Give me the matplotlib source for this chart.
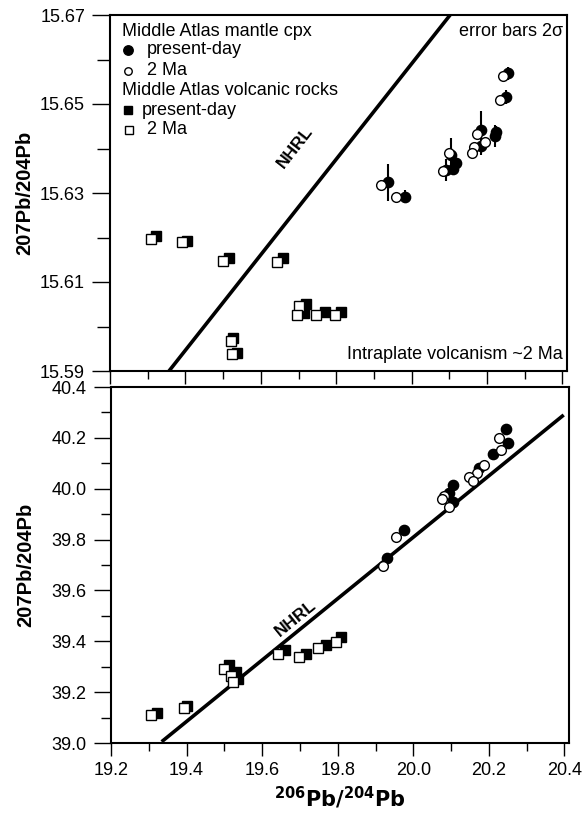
import matplotlib
matplotlib.use('Agg')
import matplotlib.pyplot as plt
from matplotlib.ticker import MultipleLocator, FormatStrFormatter

plt.rcParams['font.family'] = ['Liberation Sans', 'DejaVu Sans']

# --- 207Pb/204Pb vs 206Pb/204Pb (upper panel) ---
# clinopyroxene, present-day ratios (with 2 sigma error)
cpx_hoje_x_207 = [19.938, 19.982, 20.104, 20.090, 20.118, 20.110, 20.185, 20.183, 20.225, 20.222, 20.256, 20.251]
cpx_hoje_y_207 = [15.6324, 15.6292, 15.6385, 15.6352, 15.6367, 15.6354, 15.6442, 15.6406, 15.6438, 15.6428, 15.6569, 15.6516]
cpx_hoje_err_207 = [0.0042, 0.0015, 0.0038, 0.0025, 0.0012, 0.0012, 0.0043, 0.0020, 0.0012, 0.0025, 0.0015, 0.0015]
# clinopyroxene, back-calculated to 2 Ma
cpx_2ma_x_207 = [19.920, 19.959, 20.100, 20.084, 20.173, 20.194, 20.166, 20.159, 20.242, 20.235]
cpx_2ma_y_207 = [15.6318, 15.6292, 15.6390, 15.6350, 15.6433, 15.6415, 15.6403, 15.6391, 15.6564, 15.6509]
# volcanic rocks
rocha_hoje_x_207 = [19.321, 19.405, 19.516, 19.660, 19.721, 19.715, 19.770, 19.813, 19.527, 19.536]
rocha_hoje_y_207 = [15.6203, 15.6193, 15.6155, 15.6155, 15.6051, 15.6031, 15.6032, 15.6032, 15.5975, 15.5941]
rocha_2ma_x_207 = [19.308, 19.392, 19.501, 19.642, 19.700, 19.695, 19.747, 19.796, 19.520, 19.524]
rocha_2ma_y_207 = [15.6197, 15.6189, 15.6147, 15.6144, 15.6045, 15.6026, 15.6026, 15.6026, 15.5968, 15.5938]
# Northern Hemisphere Reference Line, end points
nhrl_x_207 = [19.3565, 20.102]
nhrl_y_207 = [15.590, 15.670]

# --- lower panel ---
cpx_hoje_x_208 = [20.245, 20.250, 20.211, 20.174, 20.106, 20.095, 20.104, 19.975, 19.931]
cpx_hoje_y_208 = [40.2336, 40.181, 40.1365, 40.083, 40.0146, 39.982, 39.949, 39.838, 39.726]
cpx_2ma_x_208 = [20.227, 20.232, 20.187, 20.168, 20.148, 20.157, 20.081, 20.077, 20.095, 19.953, 19.921]
cpx_2ma_y_208 = [40.2007, 40.152, 40.093, 40.061, 40.045, 40.032, 39.971, 39.958, 39.927, 39.809, 39.696]
rocha_hoje_x_208 = [19.321, 19.402, 19.513, 19.532, 19.536, 19.660, 19.715, 19.770, 19.809]
rocha_hoje_y_208 = [39.117, 39.146, 39.307, 39.280, 39.251, 39.366, 39.350, 39.385, 39.418]
rocha_2ma_x_208 = [19.305, 19.394, 19.498, 19.517, 19.523, 19.641, 19.697, 19.747, 19.796]
rocha_2ma_y_208 = [39.110, 39.139, 39.291, 39.265, 39.239, 39.350, 39.337, 39.372, 39.398]
nhrl_x_208 = [19.334, 20.398]
nhrl_y_208 = [39.005, 40.290]

X_LIM = (19.2, 20.412)


def estilo_eixo(ax, loc_y, len_y, len_x):
    for lado in ['left', 'right', 'top', 'bottom']:
        ax.spines[lado].set_linewidth(1.5)
    ax.xaxis.set_major_locator(MultipleLocator(0.2))
    ax.xaxis.set_minor_locator(MultipleLocator(0.1))
    ax.yaxis.set_major_locator(loc_y[0])
    ax.yaxis.set_minor_locator(loc_y[1])
    ax.tick_params(axis='y', which='major', direction='out', length=len_y[0], width=1.0,
                   labelsize=13, pad=5)
    ax.tick_params(axis='y', which='minor', direction='out', length=len_y[1], width=1.0)
    ax.tick_params(axis='x', which='major', direction='out', length=len_x[0], width=1.0,
                   labelsize=13, pad=4)
    ax.tick_params(axis='x', which='minor', direction='out', length=len_x[1], width=1.0)
    ax.set_xlim(*X_LIM)


def pontos(ax, cpx_h, cpx_a, rocha_h, rocha_a, err=None):
    if err is not None:
        ax.errorbar(cpx_h[0], cpx_h[1], yerr=err, fmt='none', ecolor='black',
                    elinewidth=1.5, capsize=0, zorder=3)
    ax.plot(rocha_h[0], rocha_h[1], 's', ms=7.0, mfc='black', mec='black', zorder=3)
    ax.plot(rocha_a[0], rocha_a[1], 's', ms=6.6, mfc='white', mec='black', mew=1.0, zorder=4)
    ax.plot(cpx_h[0], cpx_h[1], 'o', ms=7.4, mfc='black', mec='black', zorder=3)
    ax.plot(cpx_a[0], cpx_a[1], 'o', ms=7.0, mfc='white', mec='black', mew=1.0, zorder=4)


def main():
    fig = plt.figure(figsize=(5.82, 8.14), dpi=100)
    ax1 = fig.add_axes([110 / 582, 1 - 371 / 814, 457 / 582, 356 / 814])
    ax2 = fig.add_axes([111 / 582, 1 - 743 / 814, 458 / 582, 356 / 814])

    # painel superior
    estilo_eixo(ax1, (MultipleLocator(0.02, offset=0.01), MultipleLocator(0.01)),
                (13, 9.5), (9, 6))
    ax1.set_ylim(15.59, 15.67)
    ax1.yaxis.set_major_formatter(FormatStrFormatter('%.2f'))
    ax1.tick_params(axis='x', labelbottom=False)
    ax1.plot(nhrl_x_207, nhrl_y_207, color='black', lw=2.6, solid_capstyle='butt', zorder=2)
    ax1.text(19.692, 15.6402, 'NHRL', rotation=52, ha='center', va='center',
             fontsize=12.5, fontweight='bold')
    pontos(ax1, (cpx_hoje_x_207, cpx_hoje_y_207), (cpx_2ma_x_207, cpx_2ma_y_207),
           (rocha_hoje_x_207, rocha_hoje_y_207), (rocha_2ma_x_207, rocha_2ma_y_207),
           err=cpx_hoje_err_207)
    ax1.set_ylabel('207Pb/204Pb', fontsize=14.5, fontweight='bold')
    ax1.yaxis.set_label_coords(-0.166, 0.5)

    # legenda desenhada em coordenadas do eixo
    t = ax1.transAxes
    fs = 13
    ax1.text(0.026, 0.955, 'Middle Atlas mantle cpx', transform=t, fontsize=fs, va='center')
    ax1.plot([0.039], [0.902], 'o', ms=6.8, color='black', transform=t, clip_on=False)
    ax1.text(0.080, 0.902, 'present-day', transform=t, fontsize=fs, va='center')
    ax1.plot([0.039], [0.843], 'o', ms=5.4, mfc='white', mec='black', mew=1.0, transform=t)
    ax1.text(0.080, 0.843, '2 Ma', transform=t, fontsize=fs, va='center')
    ax1.text(0.026, 0.789, 'Middle Atlas volcanic rocks', transform=t, fontsize=fs, va='center')
    ax1.plot([0.039], [0.733], 's', ms=5.4, color='black', transform=t)
    ax1.text(0.070, 0.733, 'present-day', transform=t, fontsize=fs, va='center')
    ax1.plot([0.041], [0.677], 's', ms=5.7, mfc='white', mec='black', mew=1.0, transform=t)
    ax1.text(0.080, 0.677, '2 Ma', transform=t, fontsize=fs, va='center')
    ax1.text(0.991, 0.955, 'error bars 2\u03c3', transform=t, fontsize=fs, va='center', ha='right')
    ax1.text(0.991, 0.045, 'Intraplate volcanism ~2 Ma', transform=t, fontsize=fs,
             va='center', ha='right')

    # painel inferior
    estilo_eixo(ax2, (MultipleLocator(0.2), MultipleLocator(0.1)), (12.5, 7.5), (9.5, 6))
    ax2.set_ylim(39.0, 40.4)
    ax2.yaxis.set_major_formatter(FormatStrFormatter('%.1f'))
    ax2.xaxis.set_major_formatter(FormatStrFormatter('%.1f'))
    ax2.plot(nhrl_x_208, nhrl_y_208, color='black', lw=2.6, solid_capstyle='butt', zorder=2)
    ax2.text(19.690, 39.49, 'NHRL', rotation=39, ha='center', va='center',
             fontsize=12.5, fontweight='bold')
    pontos(ax2, (cpx_hoje_x_208, cpx_hoje_y_208), (cpx_2ma_x_208, cpx_2ma_y_208),
           (rocha_hoje_x_208, rocha_hoje_y_208), (rocha_2ma_x_208, rocha_2ma_y_208))
    ax2.set_ylabel('207Pb/204Pb', fontsize=14.5, fontweight='bold')
    ax2.yaxis.set_label_coords(-0.166, 0.5)
    ax2.set_xlabel(r'$\mathbf{^{206}Pb/^{204}Pb}$', fontsize=15, labelpad=4)

    fig.savefig('out.png', dpi=100)


if __name__ == '__main__':
    main()
